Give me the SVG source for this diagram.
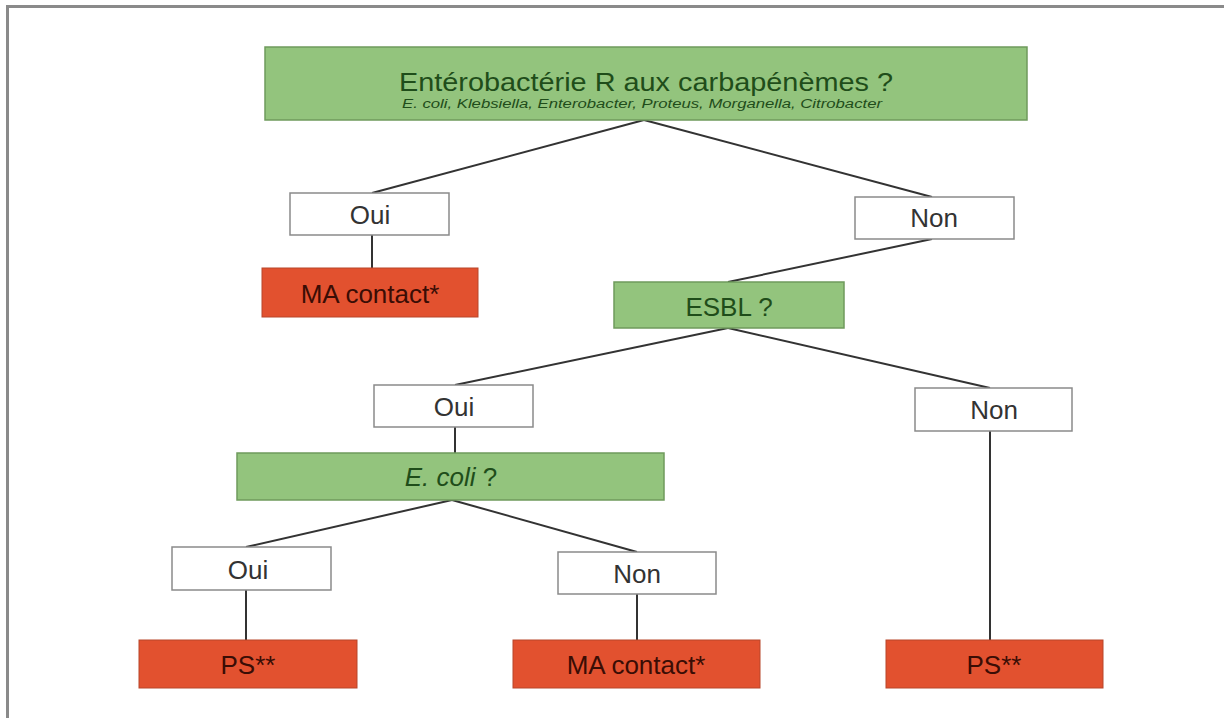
<svg xmlns="http://www.w3.org/2000/svg" width="1224" height="718" viewBox="0 0 1224 718">
<style>
  .q { fill: #93c47d; stroke: #6f9a5c; stroke-width: 1.5; }
  .a { fill: #ffffff; stroke: #8a8a8a; stroke-width: 1.5; }
  .r { fill: #e2512f; stroke: #b8462b; stroke-width: 1; }
  .t { font-family: "Liberation Sans", Arial, sans-serif; text-anchor: middle; }
  .tq { fill: #1f4d1a; font-size: 26px; }
  .ta { fill: #333333; font-size: 26px; }
  .tr { fill: #3a0d05; font-size: 26px; }
  .c line { stroke: #333333; stroke-width: 2; }
</style>
<rect x="0" y="0" width="1224" height="718" fill="#ffffff"/>
<path d="M7.5 718 V6.5 H1224" fill="none" stroke="#8a8a8a" stroke-width="3"/>
<g class="c">
  <line x1="644" y1="120" x2="372" y2="193"/>
  <line x1="644" y1="120" x2="932" y2="197"/>
  <line x1="372" y1="235" x2="372" y2="268"/>
  <line x1="932" y1="239" x2="728" y2="282"/>
  <line x1="728" y1="328" x2="455" y2="385"/>
  <line x1="728" y1="328" x2="990" y2="388"/>
  <line x1="455" y1="427" x2="455" y2="453"/>
  <line x1="452" y1="500" x2="246" y2="547"/>
  <line x1="452" y1="500" x2="637" y2="552"/>
  <line x1="246" y1="590" x2="246" y2="640"/>
  <line x1="637" y1="594" x2="637" y2="640"/>
  <line x1="990" y1="431" x2="990" y2="640"/>
</g>
<g id="n-top">
  <rect class="q" x="265" y="47" width="762" height="73"/>
  <text class="t" x="646" y="91" style="font-size:25px" fill="#1f4d1a" textLength="494" lengthAdjust="spacingAndGlyphs">Entérobactérie R aux carbapénèmes ?</text>
  <text class="t" x="642" y="108" style="font-size:12px" font-style="italic" fill="#1f4d1a" textLength="480" lengthAdjust="spacingAndGlyphs">E. coli, Klebsiella, Enterobacter, Proteus, Morganella, Citrobacter</text>
</g>
<g id="n-oui1">
  <rect class="a" x="290" y="193" width="159" height="42"/>
  <text class="t ta" x="370" y="224">Oui</text>
</g>
<g id="n-ma1">
  <rect class="r" x="262" y="268" width="216" height="49"/>
  <text class="t tr" x="370" y="303">MA contact*</text>
</g>
<g id="n-non1">
  <rect class="a" x="855" y="197" width="159" height="42"/>
  <text class="t ta" x="934" y="227">Non</text>
</g>
<g id="n-esbl">
  <rect class="q" x="614" y="282" width="230" height="46"/>
  <text class="t tq" x="729" y="316">ESBL ?</text>
</g>
<g id="n-oui2">
  <rect class="a" x="374" y="385" width="159" height="42"/>
  <text class="t ta" x="454" y="416">Oui</text>
</g>
<g id="n-non2">
  <rect class="a" x="915" y="388" width="157" height="43"/>
  <text class="t ta" x="994" y="419">Non</text>
</g>
<g id="n-ecoli">
  <rect class="q" x="237" y="453" width="427" height="47"/>
  <text class="t tq" x="451" y="486"><tspan font-style="italic">E. coli</tspan> ?</text>
</g>
<g id="n-oui3">
  <rect class="a" x="172" y="547" width="159" height="43"/>
  <text class="t ta" x="248" y="579">Oui</text>
</g>
<g id="n-non3">
  <rect class="a" x="558" y="552" width="158" height="42"/>
  <text class="t ta" x="637" y="583">Non</text>
</g>
<g id="n-ps1">
  <rect class="r" x="139" y="640" width="218" height="48"/>
  <text class="t tr" x="248" y="674">PS**</text>
</g>
<g id="n-ma2">
  <rect class="r" x="513" y="640" width="247" height="48"/>
  <text class="t tr" x="636" y="674">MA contact*</text>
</g>
<g id="n-ps2">
  <rect class="r" x="886" y="640" width="217" height="48"/>
  <text class="t tr" x="994" y="674">PS**</text>
</g>
</svg>
